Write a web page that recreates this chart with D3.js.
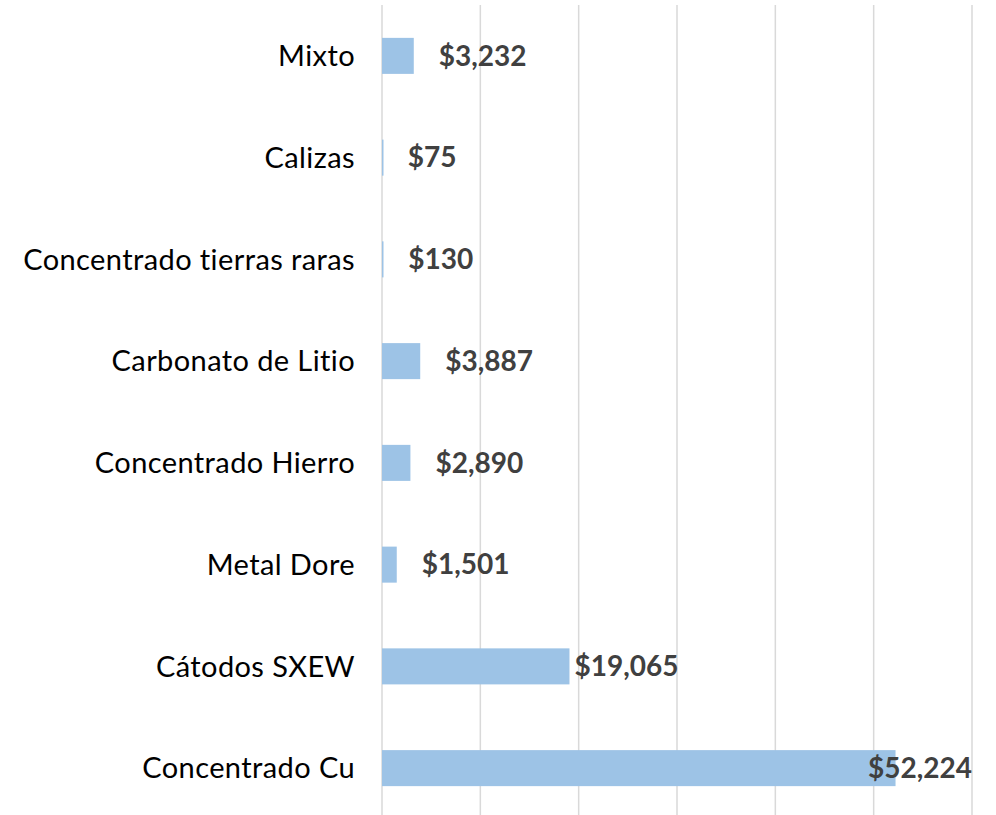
<!DOCTYPE html>
<html>
<head>
  <meta charset="utf-8">
  <title>Valor por producto</title>
  <style>
    body { margin: 0; background: #fff; }
    svg { display: block; }
    .cat { font-family: Lato, sans-serif; font-size: 29px; letter-spacing: 0.4px; font-variant-ligatures: none; fill: #000; }
    .val { font-family: Lato, sans-serif; font-size: 28px; font-weight: bold; fill: #404040; }
  </style>
</head>
<body>
  <svg width="996" height="815"></svg>
  <script src="https://d3js.org/d3.v7.min.js"></script>
  <script>
    // categories top to bottom, and their values
    var categories = ['Mixto', 'Calizas', 'Concentrado tierras raras', 'Carbonato de Litio',
      'Concentrado Hierro', 'Metal Dore', 'Cátodos SXEW', 'Concentrado Cu'];
    var values = [3232, 75, 130, 3887, 2890, 1501, 19065, 52224];
    var gridTicks = [0, 10000, 20000, 30000, 40000, 50000, 60000];

    var svg = d3.select('svg');
    var plotLeft = 382, plotRight = 972, plotTop = 5, plotBottom = 819;

    var x = d3.scaleLinear().domain([0, 60000]).range([plotLeft, plotRight]);
    var y = d3.scaleBand().domain(categories).range([plotTop, plotBottom]).paddingInner(0.646).paddingOuter(0.323);

    // vertical gridlines
    svg.selectAll('line.grid')
      .data(gridTicks)
      .enter().append('line')
      .attr('class', 'grid')
      .attr('x1', function(d) { return x(d); })
      .attr('x2', function(d) { return x(d); })
      .attr('y1', plotTop)
      .attr('y2', 815)
      .attr('stroke', '#d9d9d9')
      .attr('stroke-width', 1.5);

    var rows = categories.map(function(c, i) { return { cat: c, val: values[i] }; });

    svg.selectAll('rect.bar')
      .data(rows)
      .enter().append('rect')
      .attr('class', 'bar')
      .attr('x', x(0))
      .attr('y', function(d) { return y(d.cat); })
      .attr('width', function(d) { return Math.max(x(d.val) - x(0), 1.5); })
      .attr('height', y.bandwidth())
      .attr('fill', '#9dc3e6');

    // category labels
    svg.selectAll('text.cat')
      .data(rows)
      .enter().append('text')
      .attr('class', 'cat')
      .attr('x', plotLeft - 27)
      .attr('y', function(d) { return y(d.cat) + y.bandwidth() / 2; })
      .attr('dy', '0.35em')
      .attr('text-anchor', 'end')
      .text(function(d) { return d.cat; });

    // value labels, pulled back so they stay inside the plot
    var fmt = d3.format(',');
    svg.selectAll('text.val')
      .data(rows)
      .enter().append('text')
      .attr('class', 'val')
      .attr('y', function(d) { return y(d.cat) + y.bandwidth() / 2; })
      .attr('dy', '0.35em')
      .text(function(d) { return '$' + fmt(d.val); })
      .attr('x', function(d) {
        var w = this.getComputedTextLength();
        var gap = d.val < 10000 ? 25 : 5;
        return Math.min(x(d.val) + gap, plotRight - w);
      });
  </script>
</body>
</html>
